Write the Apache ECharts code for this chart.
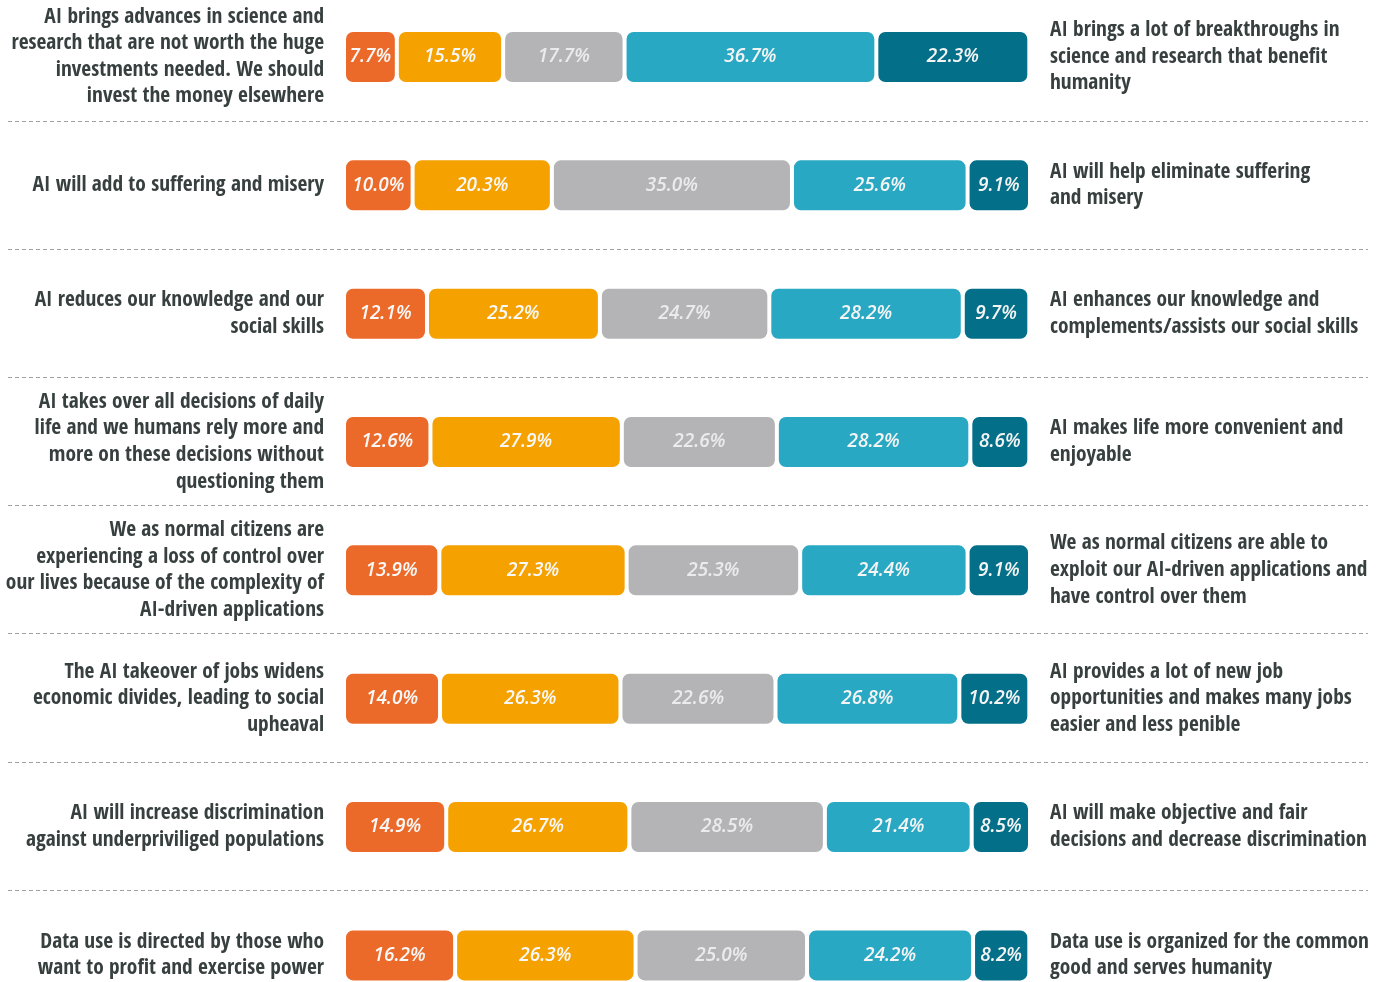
<!DOCTYPE html>
<html>
<head>
<meta charset="utf-8">
<script src="https://cdn.jsdelivr.net/npm/echarts@6/dist/echarts.min.js"></script>
<style>
html,body{margin:0;padding:0;background:#fff;}
#chart{width:1384px;height:982px;}
</style>
</head>
<body>
<div id="chart"></div>
<script>
const leftLabels = [
  "AI brings advances in science and\nresearch that are not worth the huge\ninvestments needed. We should\ninvest the money elsewhere",
  "AI will add to suffering and misery",
  "AI reduces our knowledge and our\nsocial skills",
  "AI takes over all decisions of daily\nlife and we humans rely more and\nmore on these decisions without\nquestioning them",
  "We as normal citizens are\nexperiencing a loss of control over\nour lives because of the complexity of\nAI-driven applications",
  "The AI takeover of jobs widens\neconomic divides, leading to social\nupheaval",
  "AI will increase discrimination\nagainst underpriviliged populations",
  "Data use is directed by those who\nwant to profit and exercise power"
];
const rightLabels = [
  "AI brings a lot of breakthroughs in\nscience and research that benefit\nhumanity",
  "AI will help eliminate suffering\nand misery",
  "AI enhances our knowledge and\ncomplements/assists our social skills",
  "AI makes life more convenient and\nenjoyable",
  "We as normal citizens are able to\nexploit our AI-driven applications and\nhave control over them",
  "AI provides a lot of new job\nopportunities and makes many jobs\neasier and less penible",
  "AI will make objective and fair\ndecisions and decrease discrimination",
  "Data use is organized for the common\ngood and serves humanity"
];
const seg1 = [7.7, 10.0, 12.1, 12.6, 13.9, 14.0, 14.9, 16.2];
const seg2 = [15.5, 20.3, 25.2, 27.9, 27.3, 26.3, 26.7, 26.3];
const seg3 = [17.7, 35.0, 24.7, 22.6, 25.3, 22.6, 28.5, 25.0];
const seg4 = [36.7, 25.6, 28.2, 28.2, 24.4, 26.8, 21.4, 24.2];
const seg5 = [22.3, 9.1, 9.7, 8.6, 9.1, 10.2, 8.5, 8.2];

const colors = ['#EC6A29', '#F5A100', '#B4B4B6', '#29A8C3', '#036F88'];
const labelColors = ['#f8f8f8', '#f8f8f8', '#ebebeb', '#f4f4f4', '#f4f4f4'];
const condensed = "'Open Sans Condensed', 'Liberation Sans Narrow', 'DejaVu Sans Condensed', 'Roboto Condensed', 'Arial Narrow', sans-serif";

const segs = [seg1, seg2, seg3, seg4, seg5];
const series = segs.map((d, i) => ({
  type: 'bar',
  stack: 'total',
  xAxisIndex: 0,
  yAxisIndex: 0,
  barWidth: 54,
  data: d,
  itemStyle: {color: colors[i], borderColor: '#ffffff', borderWidth: 2, borderRadius: 8},
  label: {
    show: true,
    position: 'inside',
    formatter: p => p.value.toFixed(1) + '%',
    color: labelColors[i],
    fontStyle: 'italic',
    fontWeight: 600,
    fontFamily: "'Open Sans', sans-serif",
    fontSize: 19
  },
  emphasis: {disabled: true},
  silent: true
}));
series.push({type: 'line', xAxisIndex: 1, yAxisIndex: 2, data: [], silent: true});

const labelStyle = {color: '#37403F', fontWeight: 'bold', fontFamily: condensed, fontSize: 21.4, lineHeight: 26.6};

const chart = echarts.init(document.getElementById('chart'), null, {renderer: 'canvas'});
chart.setOption({
  animation: false,
  backgroundColor: '#ffffff',
  grid: [
    {left: 344, width: 686, top: 57, height: 899},
    {left: 8, width: 1360, top: 121, height: 769}
  ],
  xAxis: [
    {gridIndex: 0, type: 'value', min: 0, max: 100, show: false},
    {gridIndex: 1, type: 'value', min: 0, max: 100, show: false}
  ],
  yAxis: [
    {
      gridIndex: 0, type: 'category', inverse: true, boundaryGap: false, data: leftLabels, position: 'left',
      axisLine: {show: false}, axisTick: {show: false}, splitLine: {show: false},
      axisLabel: Object.assign({margin: 20, align: 'right', interval: 0}, labelStyle)
    },
    {
      gridIndex: 0, type: 'category', inverse: true, boundaryGap: false, data: rightLabels, position: 'right',
      axisLine: {show: false}, axisTick: {show: false}, splitLine: {show: false},
      axisLabel: Object.assign({margin: 20, align: 'left', interval: 0}, labelStyle)
    },
    {
      gridIndex: 1, type: 'value', min: 0, max: 6, interval: 1, inverse: true,
      axisLine: {show: false}, axisTick: {show: false}, axisLabel: {show: false},
      splitLine: {show: true, lineStyle: {color: '#a0a0a0', type: [4, 3], width: 1}}
    }
  ],
  series: series
});
</script>
</body>
</html>
